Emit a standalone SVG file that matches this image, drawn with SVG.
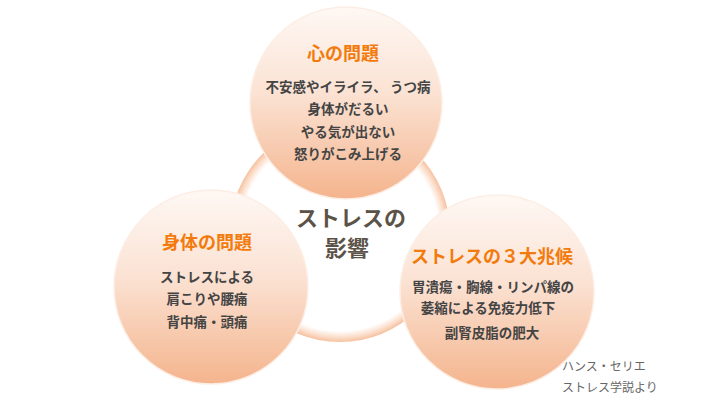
<svg xmlns="http://www.w3.org/2000/svg" width="720" height="400" viewBox="0 0 720 400">
<defs>
<linearGradient id="peach" x1="0" y1="0" x2="0" y2="1">
<stop offset="0" stop-color="#fef8f4"/>
<stop offset="0.45" stop-color="#fbe2d3"/>
<stop offset="1" stop-color="#f4b48d"/>
</linearGradient>
<radialGradient id="ring" cx="0.5" cy="0.5" r="0.5">
<stop offset="0" stop-color="#ffffff"/>
<stop offset="0.9" stop-color="#ffffff"/>
<stop offset="0.96" stop-color="#fbdcc8"/>
<stop offset="1" stop-color="#f6c09f"/>
</radialGradient>
<style>
.bub{fill:url(#peach);stroke:#fdeee5;stroke-width:1.5}
.t{font-family:"Noto Sans CJK JP","Noto Sans",sans-serif;font-weight:bold;text-anchor:middle}
.h{fill:#f37b0d;font-size:18px}
.b{fill:#444444;font-size:13.5px}
.c{fill:#5b5248;font-size:22px}
.n{font-family:"Noto Sans CJK JP","Noto Sans",sans-serif;fill:#666666;font-size:12px}
</style>
</defs>
<rect width="720" height="400" fill="#ffffff"/>
<g id="center">
<circle cx="340" cy="232" r="110" fill="url(#ring)"/>
</g>
<g id="top">
<circle class="bub" cx="346" cy="103" r="96"/>
<text class="t h" x="343" y="60">心の問題</text>
<text class="t b" x="348" y="92">不安感やイライラ、 うつ病</text>
<text class="t b" x="348" y="114">身体がだるい</text>
<text class="t b" x="348" y="137">やる気が出ない</text>
<text class="t b" x="348" y="159">怒りがこみ上げる</text>
</g>
<g id="left">
<circle class="bub" cx="211" cy="287" r="97"/>
<text class="t h" x="207" y="249">身体の問題</text>
<text class="t b" x="207" y="282">ストレスによる</text>
<text class="t b" x="207" y="304">肩こりや腰痛</text>
<text class="t b" x="207" y="327">背中痛・頭痛</text>
</g>
<g id="right">
<circle class="bub" cx="497" cy="292" r="97"/>
<text class="t h" x="492" y="263">ストレスの３大兆候</text>
<text class="t b" x="493" y="292">胃潰瘍・胸線・リンパ線の</text>
<text class="t b" x="488" y="313">萎縮による免疫力低下</text>
<text class="t b" x="492" y="338">副腎皮脂の肥大</text>
</g>
<g id="centerText">
<text class="t c" x="351" y="226">ストレスの</text>
<text class="t c" x="347" y="256">影響</text>
</g>
<g id="note">
<text class="n" x="562" y="371">ハンス・セリエ</text>
<text class="n" x="562" y="392">ストレス学説より</text>
</g>
<g id="connectors"/>
</svg>
